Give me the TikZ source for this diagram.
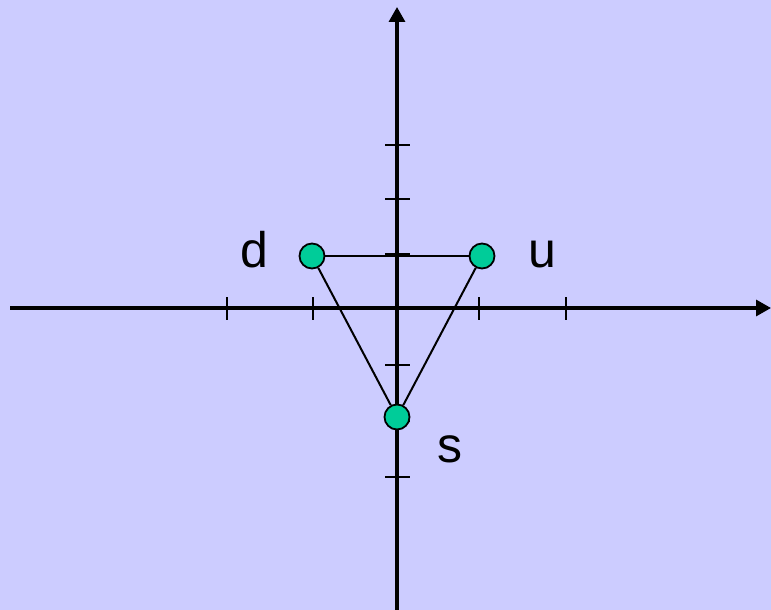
\documentclass[tikz,border=0pt]{standalone}
\usepackage{fontspec}
\setmainfont{Liberation Sans}
\usetikzlibrary{arrows.meta}
\definecolor{qBack}{RGB}{204,204,255}
\definecolor{qGreen}{RGB}{0,204,153}

\begin{document}
\begin{tikzpicture}[x=1pt,y=-1pt,
  axisline/.style={line width=3.3pt, -{Triangle[length=15pt,width=16pt]}},
  tickline/.style={line width=2pt},
  quark/.style={circle, draw=black, line width=1.8pt, fill=qGreen,
                minimum size=25pt, inner sep=0pt},
  bond/.style={line width=2pt},
  qlabel/.style={anchor=base, font=\fontsize{50}{50}\selectfont, inner sep=0pt}
]
%% Background and frame
\fill[qBack] (0,0) rectangle (771,610);
\useasboundingbox (0,0) rectangle (771,610);
%% Axes
\coordinate (xL) at (10,308);
\coordinate (xR) at (771,308);
\coordinate (yB) at (397,610);
\coordinate (yT) at (397,7);
\draw[axisline] (xL) -- (xR);
\draw[axisline] (yB) -- (yT);
%% Ticks
\foreach \tx in {227,313,479,566}
  \draw[tickline] (\tx,297) -- (\tx,320);
\foreach \ty in {145,199,254,365,421,477}
  \draw[tickline] (385,\ty) -- (410,\ty);
%% Quarks
\node[quark] (d) at (312,256) {};
\node[quark] (u) at (482,256) {};
\node[quark] (s) at (397,417) {};
\draw[bond] (d) -- (u);
\draw[bond] (d) -- (s);
\draw[bond] (u) -- (s);
%% Labels
\node[qlabel] (dl) at (254,267) {d};
\node[qlabel] (ul) at (542,267) {u};
\node[qlabel] (sl) at (450,462) {s};
\end{tikzpicture}
\end{document}
